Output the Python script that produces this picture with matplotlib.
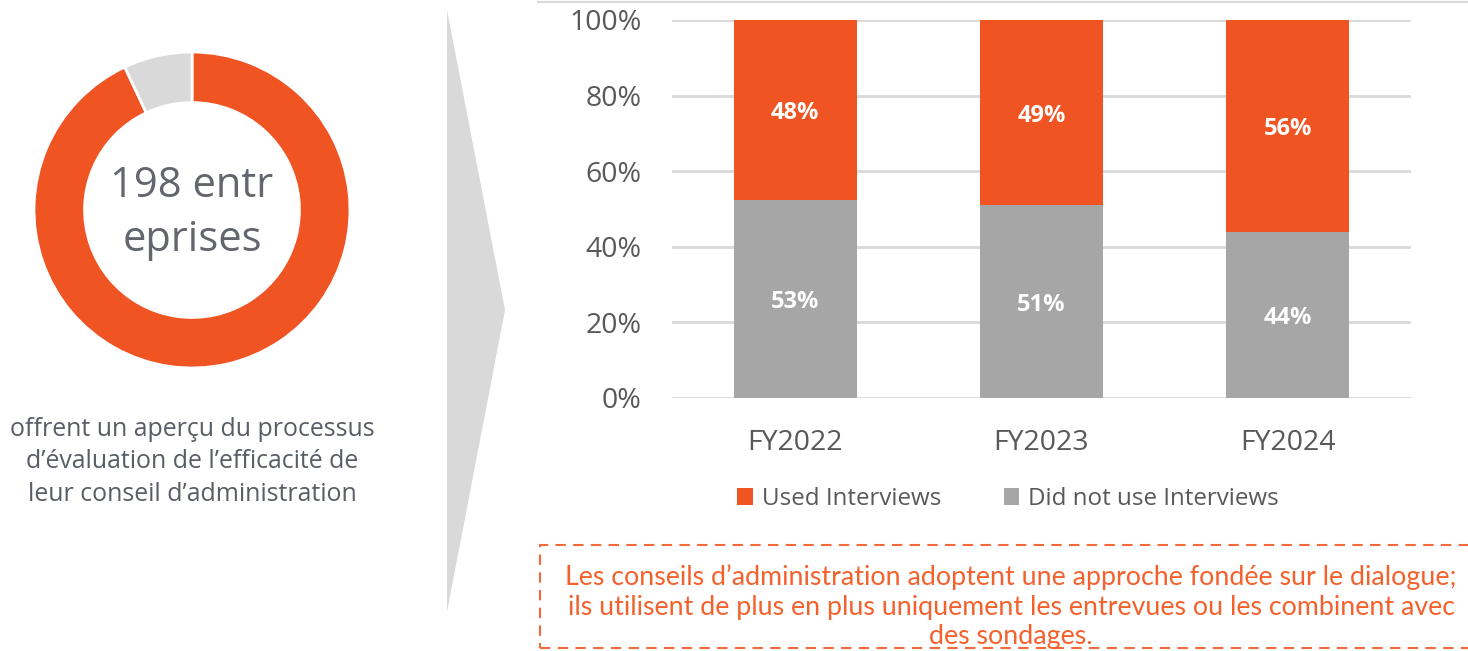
import matplotlib
matplotlib.use('Agg')
import matplotlib.pyplot as plt
from matplotlib.patches import Polygon, Rectangle
from matplotlib.lines import Line2D

# donut: part des entreprises
donut_values = [93, 7]
donut_colors = ['#F05423', '#D9D9D9']
center_text = '198 entr\neprises'
caption = ('offrent un aperçu du processus\n'
           'd\u2019évaluation de l\u2019efficacité de\n'
           'leur conseil d\u2019administration')

# barres empilées
years = ['FY2022', 'FY2023', 'FY2024']
used = [48, 49, 56]
not_used = [53, 51, 44]
note = ('Les conseils d\u2019administration adoptent une approche fondée sur le dialogue;\n'
        'ils utilisent de plus en plus uniquement les entrevues ou les combinent avec\n'
        'des sondages.')

orange = '#F05423'
grey_bar = '#A6A6A6'
txt_grey = '#595959'

plt.rcParams['font.family'] = ['Open Sans', 'DejaVu Sans']

W, H = 1468, 651
fig = plt.figure(figsize=(W / 100, H / 100), dpi=100)


def fx(px):
    return px / W


def fy(py):
    return 1 - py / H


# donut
cx, cy, r = 192, 210, 158
ax_d = fig.add_axes([fx(cx - 160), fy(cy + 160), 320 / W, 320 / H])
ax_d.pie(donut_values, colors=donut_colors, startangle=90, counterclock=False,
         radius=1, wedgeprops=dict(width=0.32, edgecolor='white', linewidth=2))
ax_d.set_xlim(-160 / r, 160 / r)
ax_d.set_ylim(-160 / r, 160 / r)
fig.text(fx(192), fy(213), center_text, ha='center', va='center', fontsize=30,
         color='#63666D', linespacing=1.37)

fig.text(fx(192), fy(462), caption, ha='center', va='center', fontsize=17.9,
         color='#595D66', linespacing=1.42)

# chevron
fig.patches.append(Polygon([(fx(447), fy(10)), (fx(505), fy(310)), (fx(447), fy(612))],
                           closed=True, transform=fig.transFigure,
                           facecolor='#D9D9D9', edgecolor='none'))

# cadre haut
fig.lines.append(Line2D([fx(538), 1], [fy(1.5), fy(1.5)], transform=fig.transFigure,
                        color='#D9D9D9', linewidth=1.5))

# bar chart
ax = fig.add_axes([fx(672), fy(398), (1411 - 672) / W, 378 / H])
tot = [u + n for u, n in zip(used, not_used)]
grey_h = [n / t * 100 for n, t in zip(not_used, tot)]
orange_h = [u / t * 100 for u, t in zip(used, tot)]
x = range(len(years))
b1 = ax.bar(x, grey_h, width=0.5, color=grey_bar, zorder=3,
            label='Did not use Interviews')
b2 = ax.bar(x, orange_h, width=0.5, bottom=grey_h, color=orange, zorder=3,
            label='Used Interviews')
for i in x:
    ax.text(i, grey_h[i] / 2, f'{not_used[i]}%', ha='center', va='center_baseline',
            color='white', fontsize=17, fontweight='bold', zorder=4)
    ax.text(i, grey_h[i] + orange_h[i] / 2, f'{used[i]}%', ha='center',
            va='center_baseline', color='white', fontsize=17, fontweight='bold',
            zorder=4)

ax.set_xlim(-0.5, 2.5)
ax.set_ylim(0, 100)
ax.set_yticks(range(0, 101, 20))
ax.set_yticklabels([f'{v}%' for v in range(0, 101, 20)])
ax.set_xticks(list(x))
ax.set_xticklabels(years)
ax.tick_params(axis='y', length=0, pad=22, labelsize=20.5, labelcolor=txt_grey)
ax.tick_params(axis='x', length=0, pad=22, labelsize=20.5, labelcolor=txt_grey)
ax.grid(axis='y', color='#D9D9D9', linewidth=2, zorder=0)
for s in ax.spines.values():
    s.set_visible(False)

leg = fig.legend([b2, b1], ['Used Interviews', 'Did not use Interviews'],
                 loc='center', bbox_to_anchor=(fx(1008), fy(499)), ncol=2,
                 frameon=False, fontsize=17.4, handlelength=0.65, handleheight=0.65,
                 handletextpad=0.35, columnspacing=2.6)
for t in leg.get_texts():
    t.set_color(txt_grey)

# encadré pointillé
fig.patches.append(Rectangle((fx(540), fy(648)), fx(1480 - 540), (648 - 545) / H,
                             transform=fig.transFigure, fill=False,
                             edgecolor='#F26A3C', linewidth=1.5,
                             linestyle=(0, (5, 3.5))))
fig.text(fx(1011), fy(607), note, ha='center', va='center', fontsize=19.3,
         family=['Lato', 'DejaVu Sans'],
         color='#F4612C', linespacing=1.23)

fig.savefig('out.png', dpi=100)
